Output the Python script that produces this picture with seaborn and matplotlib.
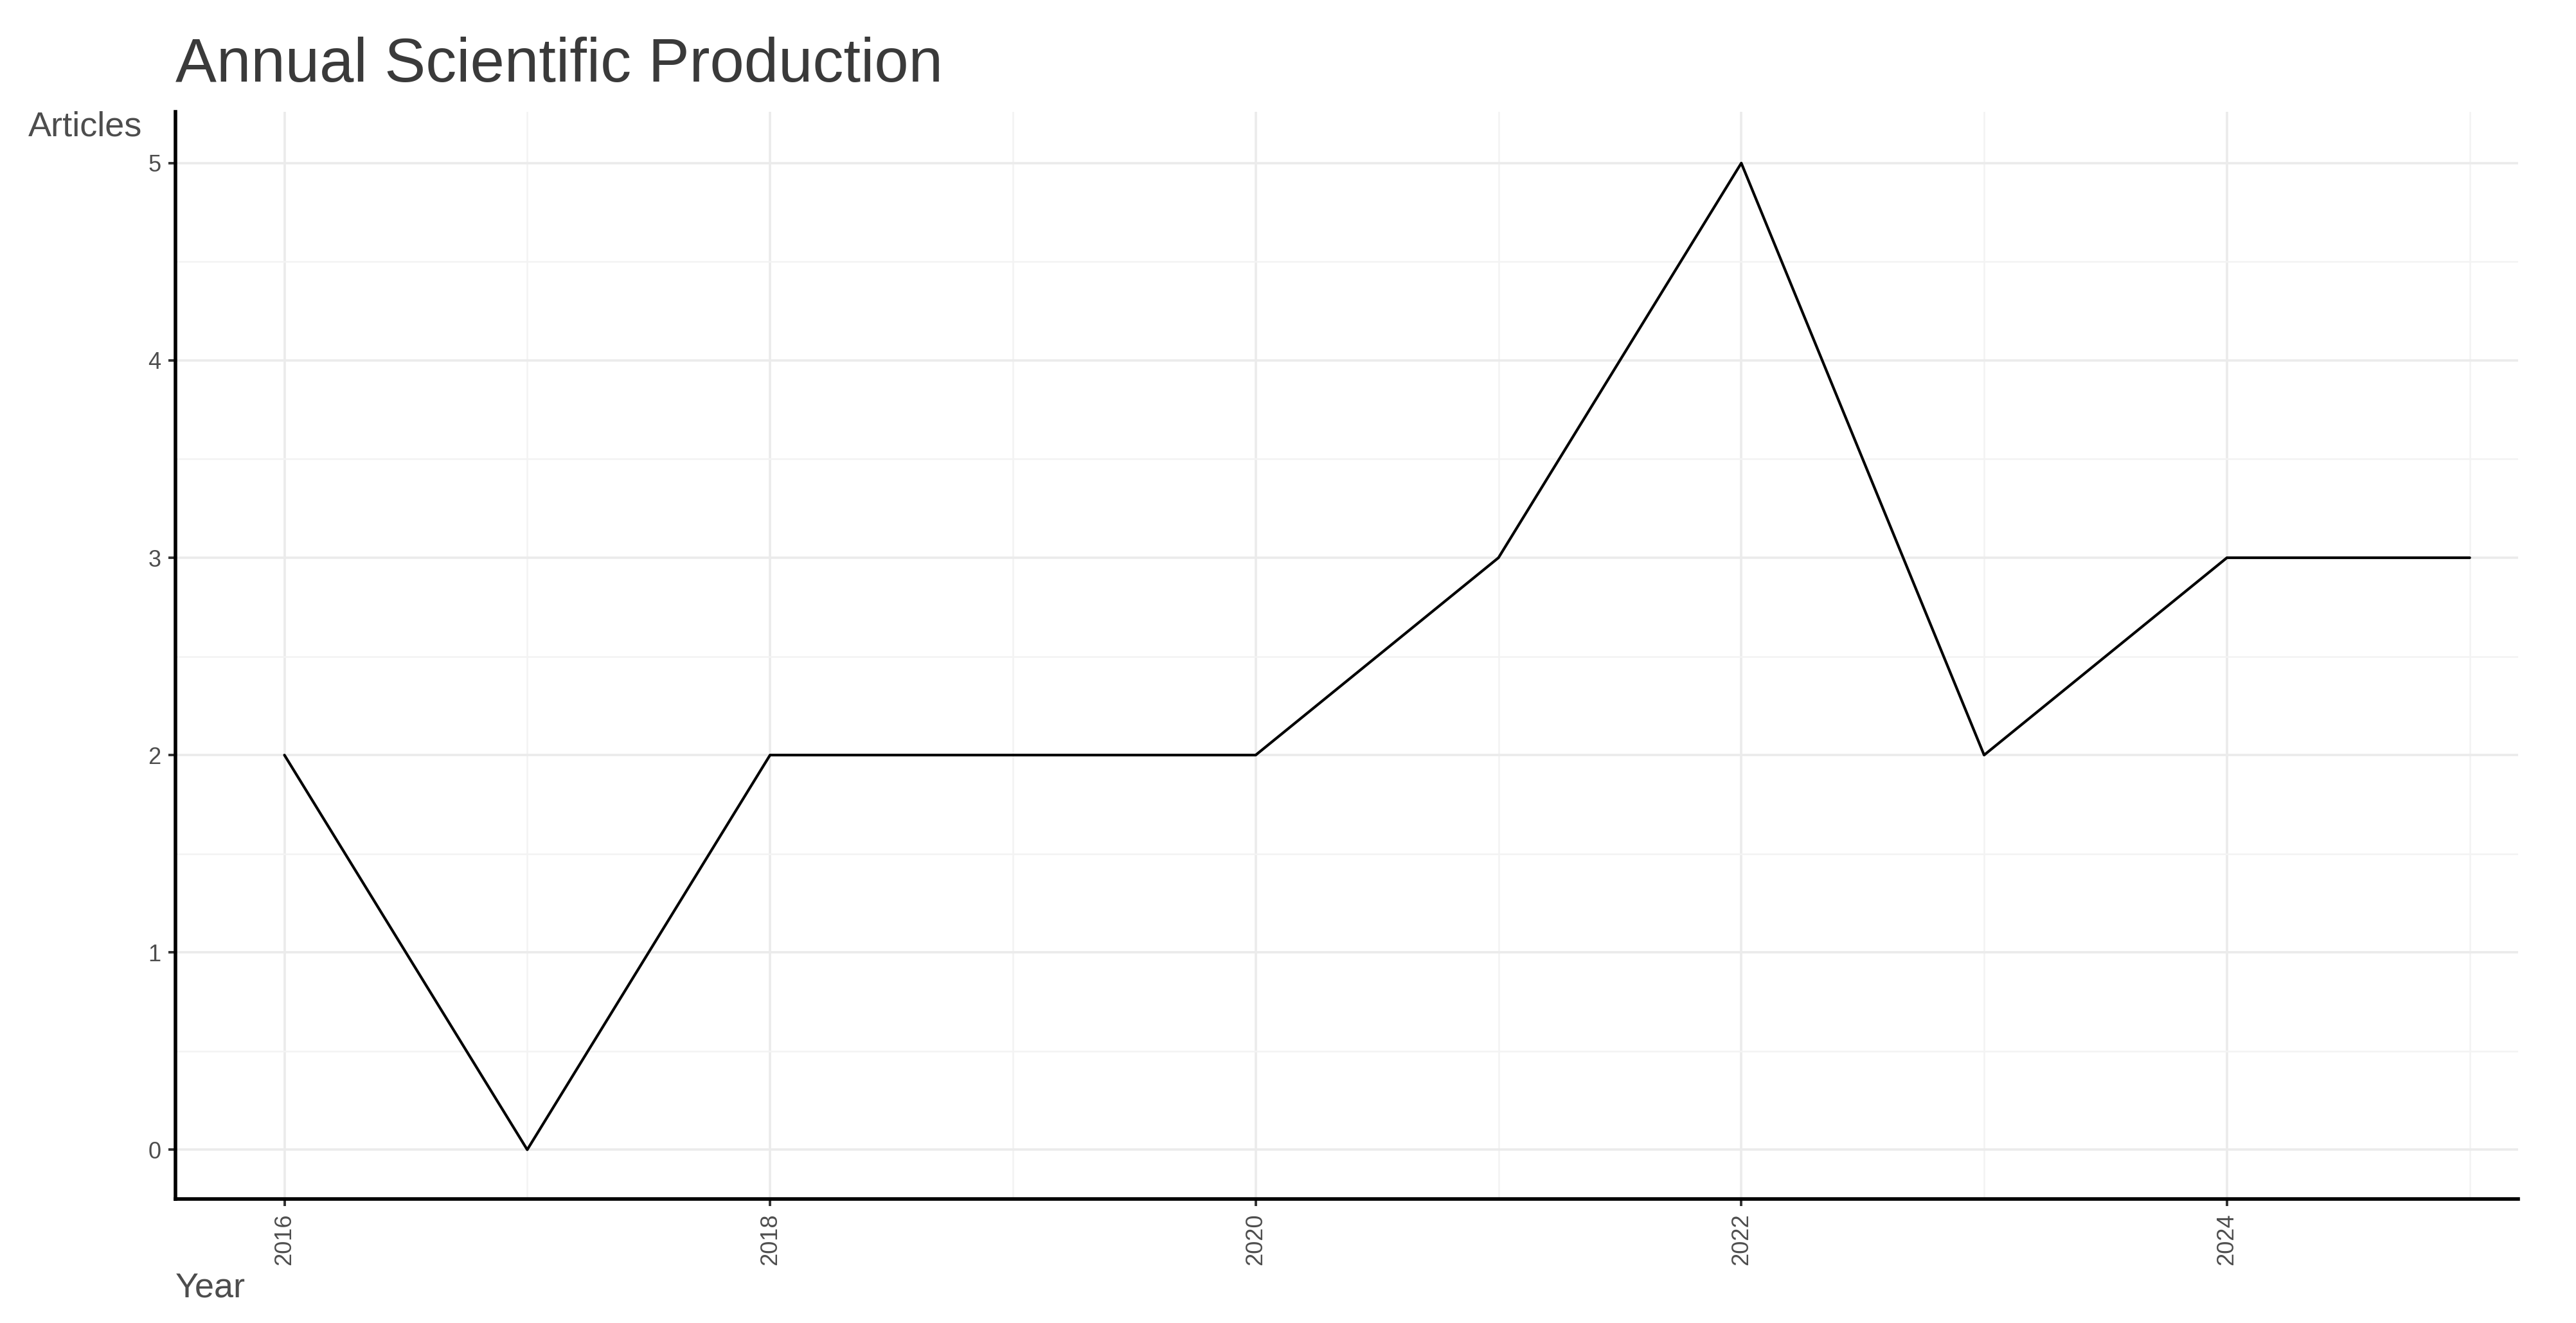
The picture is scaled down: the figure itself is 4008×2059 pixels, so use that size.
import pandas as pd
import seaborn as sns
import matplotlib.pyplot as plt
from matplotlib.ticker import MultipleLocator

# data
years = [2016, 2017, 2018, 2019, 2020, 2021, 2022, 2023, 2024, 2025]
articles = [2, 0, 2, 2, 2, 3, 5, 2, 3, 3]
x_ticks = [2016, 2018, 2020, 2022, 2024]
y_ticks = [0, 1, 2, 3, 4, 5]

df = pd.DataFrame({"Year": years, "Articles": articles})

sns.set_theme(style="white")
plt.rcParams['font.family'] = ['Liberation Sans', 'DejaVu Sans']

fig = plt.figure(figsize=(40.08, 20.59), dpi=100)
ax = fig.add_axes([0.068, 0.0937, 0.9776 - 0.068, 0.9155 - 0.0937])

sns.lineplot(data=df, x="Year", y="Articles", color="black", linewidth=3.0, ax=ax)

ax.set_xlim(2015.55, 2025.2)
ax.set_ylim(-0.25, 5.26)
ax.set_xticks(x_ticks)
ax.set_yticks(y_ticks)
ax.xaxis.set_minor_locator(MultipleLocator(1))
ax.yaxis.set_minor_locator(MultipleLocator(0.5))

ax.grid(True, which="major", color="#ebebeb", linewidth=2.6)
ax.grid(True, which="minor", color="#f3f3f3", linewidth=1.8)
ax.set_axisbelow(True)

for s in ["top", "right"]:
    ax.spines[s].set_visible(False)
for s in ["left", "bottom"]:
    ax.spines[s].set_color("black")
    ax.spines[s].set_linewidth(4)

ax.tick_params(axis="both", which="major", length=8, width=2.8, color="#333333",
               labelsize=26, labelcolor="#4d4d4d", pad=8, direction="out",
               bottom=True, left=True)
ax.tick_params(axis="both", which="minor", length=0)
plt.setp(ax.get_xticklabels(), rotation=90)

ax.set_xlabel("Year", fontsize=39, color="#4d4d4d", ha="left")
ax.xaxis.set_label_coords(0.0, -0.067)
ax.set_ylabel("Articles", fontsize=39, color="#4d4d4d", rotation=0, ha="right", va="center")
ax.yaxis.set_label_coords(-0.014, 0.986)

fig.text(0.068, 0.9505, "Annual Scientific Production", fontsize=69,
         color="#3a3a3a", ha="left", va="center")

fig.savefig("out.png", dpi=100)
